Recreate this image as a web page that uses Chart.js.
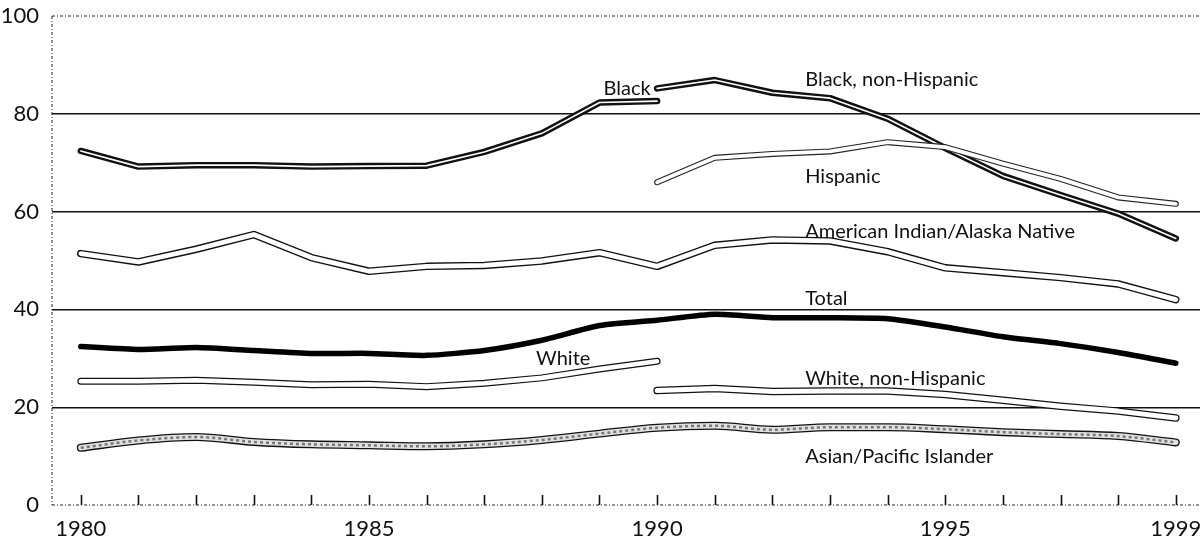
<!DOCTYPE html>
<html>
<head>
<meta charset="utf-8">
<script src="https://cdn.jsdelivr.net/npm/chart.js@4.4.1/dist/chart.umd.min.js"></script>
<style>
  html, body { margin: 0; padding: 0; background: #fff; }
  #wrap { width: 1200px; height: 541px; position: relative; }
</style>
</head>
<body>
<div id="wrap"><canvas id="myChart"></canvas></div>
<script>
const years = [1980, 1981, 1982, 1983, 1984, 1985, 1986, 1987, 1988, 1989,
               1990, 1991, 1992, 1993, 1994, 1995, 1996, 1997, 1998, 1999];
const xTicks = [1980, 1985, 1990, 1995, 1999];
const yTicks = [0, 20, 40, 60, 80, 100];

const black        = [72.4, 69.2, 69.5, 69.5, 69.2, 69.3, 69.4, 72.2, 76.0, 82.3, 82.6,
                      null, null, null, null, null, null, null, null, null];
const blackNonHisp = [null, null, null, null, null, null, null, null, null, null,
                      85.2, 86.9, 84.3, 83.2, 79.0, 73.0, 67.3, 63.4, 59.6, 54.5];
const hispanic     = [null, null, null, null, null, null, null, null, null, null,
                      66.0, 71.0, 71.8, 72.3, 74.2, 73.2, 69.8, 66.7, 62.9, 61.6];
const amIndian     = [51.4, 49.7, 52.3, 55.3, 50.6, 47.8, 48.8, 49.0, 49.9, 51.6,
                      48.8, 53.1, 54.2, 54.0, 51.8, 48.5, 47.5, 46.5, 45.2, 42.0];
const total        = [32.4, 31.8, 32.2, 31.6, 31.0, 31.0, 30.6, 31.6, 33.7, 36.7,
                      37.8, 39.0, 38.3, 38.3, 38.1, 36.4, 34.4, 33.0, 31.2, 29.0];
const white        = [25.3, 25.3, 25.5, 25.1, 24.6, 24.7, 24.2, 24.9, 26.0, 27.8, 29.4,
                      null, null, null, null, null, null, null, null, null];
const whiteNonHisp = [null, null, null, null, null, null, null, null, null, null,
                      23.4, 23.8, 23.2, 23.3, 23.3, 22.6, 21.4, 20.2, 19.2, 17.8];
const asianPI      = [11.7, 13.2, 13.9, 12.9, 12.4, 12.2, 12.0, 12.4, 13.3, 14.6,
                      15.8, 16.2, 15.4, 15.9, 15.9, 15.5, 14.9, 14.5, 14.1, 12.8];

const seriesLabels = [
  { text: 'Black', x: 1989.07, y: 85.1 },
  { text: 'Black, non-Hispanic', x: 1992.57, y: 87.1 },
  { text: 'Hispanic', x: 1992.57, y: 67.1 },
  { text: 'American Indian/Alaska Native', x: 1992.57, y: 55.9 },
  { text: 'Total', x: 1992.57, y: 42.2 },
  { text: 'White', x: 1987.9, y: 30.0 },
  { text: 'White, non-Hispanic', x: 1992.57, y: 25.9 },
  { text: 'Asian/Pacific Islander', x: 1992.57, y: 10.0 }
];

const FONT = 'Lato, "Noto Sans", sans-serif';

function pts(vals) {
  return years.map((yr, i) => ({ x: yr, y: vals[i] })).filter(p => p.y !== null);
}

function line(vals, color, width, order, extra) {
  return Object.assign({
    data: pts(vals),
    borderColor: color,
    borderWidth: width,
    pointRadius: 0,
    fill: false,
    tension: 0,
    borderCapStyle: 'round',
    borderJoinStyle: 'round',
    order: order
  }, extra || {});
}

const datasets = [
  // hollow / outlined lines: wide black under a narrower white
  line(black, '#111', 6.5, 21), line(black, '#fff', 1.6, 20),
  line(blackNonHisp, '#111', 6.5, 19), line(blackNonHisp, '#fff', 1.6, 18),
  line(hispanic, '#222', 6, 17), line(hispanic, '#fff', 3.8, 16),
  line(amIndian, '#111', 7.5, 15), line(amIndian, '#fff', 4.8, 14),
  line(total, '#000', 5.5, 13, { tension: 0.2 }),
  line(white, '#111', 7, 11), line(white, '#fff', 4.6, 10),
  line(whiteNonHisp, '#111', 7.5, 9), line(whiteNonHisp, '#fff', 5, 8),
  line(asianPI, '#111', 8, 7, { cubicInterpolationMode: 'monotone' }),
  line(asianPI, '#e0e0e0', 5.4, 6, { cubicInterpolationMode: 'monotone' }),
  line(asianPI, '#777', 2.5, 5, { cubicInterpolationMode: 'monotone', borderDash: [3, 3], borderCapStyle: 'butt' })
];

const decor = {
  id: 'decor',
  beforeDatasetsDraw(chart) {
    const { ctx, chartArea, scales: { x, y } } = chart;
    ctx.save();
    ctx.strokeStyle = '#222';
    ctx.lineWidth = 1;
    ctx.setLineDash([3, 2, 1, 2]);
    // top frame line at 100
    ctx.beginPath();
    ctx.moveTo(chartArea.left, y.getPixelForValue(100));
    ctx.lineTo(chartArea.right, y.getPixelForValue(100));
    // baseline at 0
    ctx.moveTo(chartArea.left, y.getPixelForValue(0));
    ctx.lineTo(chartArea.right, y.getPixelForValue(0));
    // left axis
    ctx.moveTo(chartArea.left, y.getPixelForValue(100));
    ctx.lineTo(chartArea.left, y.getPixelForValue(0));
    ctx.stroke();
    ctx.setLineDash([]);
    // year tick marks pointing up from baseline
    ctx.lineWidth = 1.6;
    ctx.strokeStyle = '#111';
    const y0 = y.getPixelForValue(0);
    years.forEach(yr => {
      const px = Math.round(x.getPixelForValue(yr)) + 0.5;
      ctx.beginPath();
      ctx.moveTo(px, y0);
      ctx.lineTo(px, y0 - 10);
      ctx.stroke();
    });
    ctx.restore();
  },
  afterDatasetsDraw(chart) {
    const { ctx, scales: { x, y } } = chart;
    ctx.save();
    ctx.fillStyle = '#111';
    ctx.font = '20px ' + FONT;
    ctx.textAlign = 'left';
    ctx.textBaseline = 'middle';
    seriesLabels.forEach(l => {
      ctx.fillText(l.text, x.getPixelForValue(l.x), y.getPixelForValue(l.y));
    });
    ctx.restore();
  }
};

new Chart(document.getElementById('myChart'), {
  type: 'line',
  data: { datasets: datasets },
  plugins: [decor],
  options: {
    responsive: true,
    maintainAspectRatio: false,
    animation: false,
    layout: { padding: { top: 16, right: 0, left: 0, bottom: 0 } },
    plugins: { legend: { display: false }, tooltip: { enabled: false } },
    scales: {
      x: {
        type: 'linear',
        min: 1979.5,
        max: 1999.42,
        afterBuildTicks: s => { s.ticks = xTicks.map(v => ({ value: v })); },
        afterFit: s => { s.height = 36; s.paddingLeft = 0; s.paddingRight = 0; },
        grid: { display: false, drawTicks: false },
        border: { display: false },
        ticks: {
          color: '#111',
          padding: 11,
          maxRotation: 0,
          font: { family: FONT, size: 22 },
          callback: v => String(v)
        }
      },
      y: {
        min: 0,
        max: 100,
        afterBuildTicks: s => { s.ticks = yTicks.map(v => ({ value: v })); },
        afterFit: s => { s.width = 52; s.paddingTop = 0; s.paddingBottom = 0; },
        grid: {
          drawTicks: false,
          lineWidth: 1.4,
          color: c => (c.tick && (c.tick.value === 0 || c.tick.value === 100)) ? 'rgba(0,0,0,0)' : '#111'
        },
        border: { display: false },
        ticks: {
          color: '#111',
          padding: 13,
          font: { family: FONT, size: 22 }
        }
      }
    }
  }
});
</script>
</body>
</html>
